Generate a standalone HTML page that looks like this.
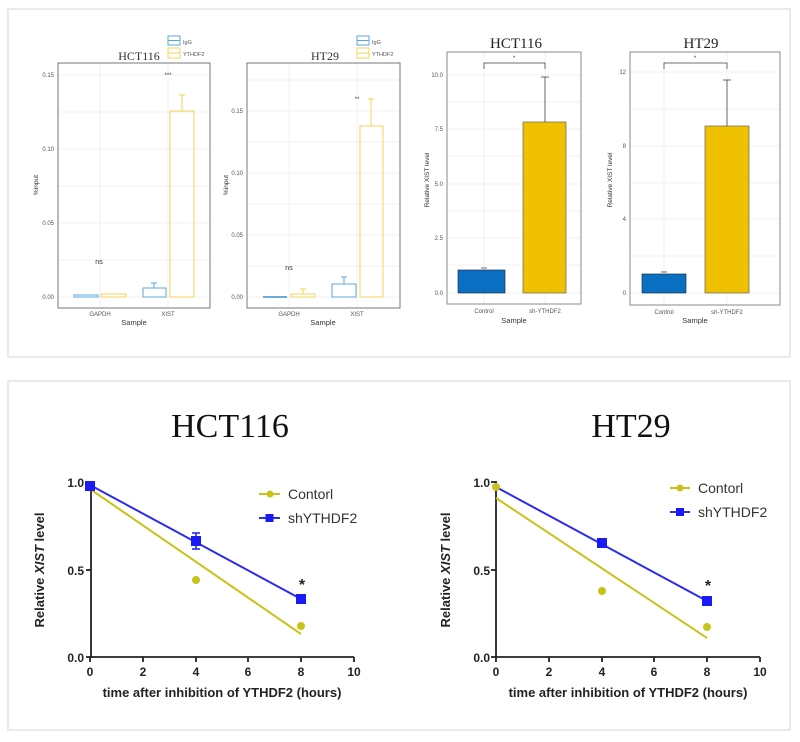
<!DOCTYPE html>
<html><head><meta charset="utf-8"><style>
html,body{margin:0;padding:0;background:#fff;width:800px;height:742px;overflow:hidden}
svg{display:block}
.s{font-family:"Liberation Sans",sans-serif}
.t{font-family:"Liberation Serif",serif}
</style></head><body>
<svg width="800" height="742" viewBox="0 0 800 742" xmlns="http://www.w3.org/2000/svg">
<rect x="8" y="9" width="782" height="348" fill="#fff" stroke="#e4e4e4" stroke-width="1.5"/>
<rect x="8" y="381" width="782" height="349" fill="#fff" stroke="#e4e4e4" stroke-width="1.5"/>

<!-- Chart 1 -->
<g class="s" font-size="6" fill="#555">
<g stroke="#eee" stroke-width="0.8">
<line x1="58" y1="75" x2="210" y2="75"/><line x1="58" y1="149" x2="210" y2="149"/><line x1="58" y1="223" x2="210" y2="223"/><line x1="58" y1="297" x2="210" y2="297"/>
<line x1="58" y1="112" x2="210" y2="112"/><line x1="58" y1="186" x2="210" y2="186"/><line x1="58" y1="260" x2="210" y2="260"/>
<line x1="100" y1="63" x2="100" y2="308"/><line x1="168" y1="63" x2="168" y2="308"/></g>
<rect x="58" y="63" width="152" height="245" fill="none" stroke="#777" stroke-width="1"/>
<text x="54" y="77" text-anchor="end">0.15</text><text x="54" y="151" text-anchor="end">0.10</text><text x="54" y="225" text-anchor="end">0.05</text><text x="54" y="299" text-anchor="end">0.00</text>
<text x="100" y="316" text-anchor="middle">GAPDH</text><text x="168" y="316" text-anchor="middle">XIST</text>
<text x="134" y="325" text-anchor="middle" font-size="7.5" fill="#333">Sample</text>
<text transform="translate(38,185) rotate(-90)" text-anchor="middle" font-size="6.5" fill="#333">%input</text>
<g fill="none" stroke-width="1">
<rect x="74" y="295" width="24" height="2" stroke="#5aa7e0"/>
<rect x="101" y="294" width="25" height="3" stroke="#f3d35a"/>
<rect x="143" y="288" width="23" height="9" stroke="#5aa7e0"/>
<line x1="154" y1="288" x2="154" y2="283" stroke="#5aa7e0"/><line x1="151" y1="283" x2="157" y2="283" stroke="#5aa7e0"/>
<rect x="170" y="111" width="24" height="186" stroke="#f3d35a"/>
<line x1="182" y1="111" x2="182" y2="95" stroke="#f3d35a"/><line x1="179" y1="95" x2="185" y2="95" stroke="#f3d35a"/>
<rect x="168" y="36" width="12" height="9" stroke="#5aa7e0"/><line x1="168" y1="40.5" x2="180" y2="40.5" stroke="#5aa7e0"/>
<rect x="168" y="48" width="12" height="10" stroke="#f3d35a"/><line x1="168" y1="53" x2="180" y2="53" stroke="#f3d35a"/>
</g>
<text x="183" y="44" font-size="5.5">IgG</text><text x="183" y="56" font-size="5.5">YTHDF2</text>
<text x="168" y="77" text-anchor="middle" fill="#333">***</text>
<text x="99" y="264" text-anchor="middle" font-size="7" fill="#333">ns</text>
</g>
<text x="139" y="60" text-anchor="middle" class="t" font-size="12" fill="#333">HCT116</text>

<!-- Chart 2 -->
<g class="s" font-size="6" fill="#555">
<g stroke="#eee" stroke-width="0.8">
<line x1="247" y1="111" x2="400" y2="111"/><line x1="247" y1="173" x2="400" y2="173"/><line x1="247" y1="235" x2="400" y2="235"/><line x1="247" y1="297" x2="400" y2="297"/>
<line x1="247" y1="80" x2="400" y2="80"/><line x1="247" y1="142" x2="400" y2="142"/><line x1="247" y1="204" x2="400" y2="204"/><line x1="247" y1="266" x2="400" y2="266"/>
<line x1="289" y1="63" x2="289" y2="308"/><line x1="357" y1="63" x2="357" y2="308"/></g>
<rect x="247" y="63" width="153" height="245" fill="none" stroke="#777" stroke-width="1"/>
<text x="243" y="113" text-anchor="end">0.15</text><text x="243" y="175" text-anchor="end">0.10</text><text x="243" y="237" text-anchor="end">0.05</text><text x="243" y="299" text-anchor="end">0.00</text>
<text x="289" y="316" text-anchor="middle">GAPDH</text><text x="357" y="316" text-anchor="middle">XIST</text>
<text x="323" y="325" text-anchor="middle" font-size="7.5" fill="#333">Sample</text>
<text transform="translate(228,185) rotate(-90)" text-anchor="middle" font-size="6.5" fill="#333">%input</text>
<g fill="none" stroke-width="1">
<line x1="263" y1="297" x2="287" y2="297" stroke="#3a8fd8" stroke-width="1.5"/>
<rect x="291" y="294" width="24" height="3" stroke="#f3d35a"/>
<line x1="303" y1="294" x2="303" y2="289" stroke="#f3d35a"/><line x1="300" y1="289" x2="306" y2="289" stroke="#f3d35a"/>
<rect x="332" y="284" width="24" height="13" stroke="#5aa7e0"/>
<line x1="344" y1="284" x2="344" y2="277" stroke="#5aa7e0"/><line x1="341" y1="277" x2="347" y2="277" stroke="#5aa7e0"/>
<rect x="360" y="126" width="23" height="171" stroke="#f3d35a"/>
<line x1="371" y1="126" x2="371" y2="99" stroke="#f3d35a"/><line x1="368" y1="99" x2="374" y2="99" stroke="#f3d35a"/>
<rect x="357" y="36" width="12" height="9" stroke="#5aa7e0"/><line x1="357" y1="40.5" x2="369" y2="40.5" stroke="#5aa7e0"/>
<rect x="357" y="48" width="12" height="10" stroke="#f3d35a"/><line x1="357" y1="53" x2="369" y2="53" stroke="#f3d35a"/>
</g>
<text x="372" y="44" font-size="5.5">IgG</text><text x="372" y="56" font-size="5.5">YTHDF2</text>
<text x="357" y="101" text-anchor="middle" fill="#333">**</text>
<text x="289" y="270" text-anchor="middle" font-size="7" fill="#333">ns</text>
</g>
<text x="325" y="60" text-anchor="middle" class="t" font-size="12" fill="#333">HT29</text>

<!-- Chart 3 -->
<g class="s" font-size="6" fill="#555">
<g stroke="#eee" stroke-width="0.8">
<line x1="447" y1="75" x2="581" y2="75"/><line x1="447" y1="129" x2="581" y2="129"/><line x1="447" y1="184" x2="581" y2="184"/><line x1="447" y1="238" x2="581" y2="238"/><line x1="447" y1="293" x2="581" y2="293"/>
<line x1="447" y1="102" x2="581" y2="102"/><line x1="447" y1="156" x2="581" y2="156"/><line x1="447" y1="211" x2="581" y2="211"/><line x1="447" y1="265" x2="581" y2="265"/>
<line x1="484" y1="52" x2="484" y2="304"/><line x1="545" y1="52" x2="545" y2="304"/></g>
<rect x="447" y="52" width="134" height="252" fill="none" stroke="#888" stroke-width="1"/>
<text x="443" y="77" text-anchor="end">10.0</text><text x="443" y="131" text-anchor="end">7.5</text><text x="443" y="186" text-anchor="end">5.0</text><text x="443" y="240" text-anchor="end">2.5</text><text x="443" y="295" text-anchor="end">0.0</text>
<rect x="458" y="270" width="47" height="23" fill="#0a6fc2" stroke="#234" stroke-width="0.7"/>
<rect x="523" y="122" width="43" height="171" fill="#efc100" stroke="#665" stroke-width="0.7"/>
<g stroke="#444" stroke-width="0.8" fill="none">
<line x1="545" y1="122" x2="545" y2="77"/><line x1="541" y1="77" x2="549" y2="77"/>
<line x1="481" y1="268" x2="487" y2="268"/>
<polyline points="484,69 484,63 545,63 545,69"/></g>
<text x="514" y="60" text-anchor="middle" fill="#333">*</text>
<text x="484" y="313" text-anchor="middle">Control</text><text x="545" y="313" text-anchor="middle">sh-YTHDF2</text>
<text x="514" y="323" text-anchor="middle" font-size="7.5" fill="#333">Sample</text>
<text transform="translate(429,180) rotate(-90)" text-anchor="middle" font-size="6.5" fill="#333">Relative XIST level</text>
</g>
<text x="516" y="48" text-anchor="middle" class="t" font-size="15" fill="#222">HCT116</text>

<!-- Chart 4 -->
<g class="s" font-size="6" fill="#555">
<g stroke="#eee" stroke-width="0.8">
<line x1="630" y1="72" x2="780" y2="72"/><line x1="630" y1="146" x2="780" y2="146"/><line x1="630" y1="219" x2="780" y2="219"/><line x1="630" y1="293" x2="780" y2="293"/>
<line x1="630" y1="109" x2="780" y2="109"/><line x1="630" y1="183" x2="780" y2="183"/><line x1="630" y1="256" x2="780" y2="256"/>
<line x1="664" y1="52" x2="664" y2="305"/><line x1="727" y1="52" x2="727" y2="305"/></g>
<rect x="630" y="52" width="150" height="253" fill="none" stroke="#888" stroke-width="1"/>
<text x="626" y="74" text-anchor="end">12</text><text x="626" y="148" text-anchor="end">8</text><text x="626" y="221" text-anchor="end">4</text><text x="626" y="295" text-anchor="end">0</text>
<rect x="642" y="274" width="44" height="19" fill="#0a6fc2" stroke="#234" stroke-width="0.7"/>
<rect x="705" y="126" width="44" height="167" fill="#efc100" stroke="#665" stroke-width="0.7"/>
<g stroke="#444" stroke-width="0.8" fill="none">
<line x1="727" y1="126" x2="727" y2="80"/><line x1="723" y1="80" x2="731" y2="80"/>
<line x1="661" y1="272" x2="667" y2="272"/>
<polyline points="664,69 664,63 727,63 727,69"/></g>
<text x="695" y="60" text-anchor="middle" fill="#333">*</text>
<text x="664" y="314" text-anchor="middle">Control</text><text x="727" y="314" text-anchor="middle">sh-YTHDF2</text>
<text x="695" y="323" text-anchor="middle" font-size="7.5" fill="#333">Sample</text>
<text transform="translate(612,180) rotate(-90)" text-anchor="middle" font-size="6.5" fill="#333">Relative XIST level</text>
</g>
<text x="701" y="48" text-anchor="middle" class="t" font-size="15" fill="#222">HT29</text>

<!-- Line chart left -->
<text x="230" y="437" text-anchor="middle" class="t" font-size="34" fill="#111">HCT116</text>
<g class="s" font-weight="bold" fill="#222">
<g stroke="#222" stroke-width="1.8">
<line x1="91" y1="481" x2="91" y2="658"/><line x1="90" y1="657" x2="354" y2="657"/>
<line x1="86" y1="482" x2="91" y2="482"/><line x1="86" y1="570" x2="91" y2="570"/><line x1="86" y1="657" x2="91" y2="657"/>
<line x1="90" y1="657" x2="90" y2="662"/><line x1="143" y1="657" x2="143" y2="662"/><line x1="196" y1="657" x2="196" y2="662"/><line x1="248" y1="657" x2="248" y2="662"/><line x1="301" y1="657" x2="301" y2="662"/><line x1="354" y1="657" x2="354" y2="662"/></g>
<g font-size="12" text-anchor="end"><text x="84" y="487">1.0</text><text x="84" y="575">0.5</text><text x="84" y="662">0.0</text></g>
<g font-size="12" text-anchor="middle"><text x="90" y="676">0</text><text x="143" y="676">2</text><text x="196" y="676">4</text><text x="248" y="676">6</text><text x="301" y="676">8</text><text x="354" y="676">10</text></g>
<text x="222" y="697" text-anchor="middle" font-size="13">time after inhibition of YTHDF2 (hours)</text>
<text transform="translate(44,570) rotate(-90)" text-anchor="middle" font-size="13">Relative <tspan font-style="italic">XIST</tspan> level</text>
<line x1="90" y1="489" x2="301" y2="634" stroke="#c8c31a" stroke-width="2"/>
<line x1="90" y1="485" x2="301" y2="599" stroke="#2b2bf0" stroke-width="2"/>
<g fill="#c8c31a"><circle cx="196" cy="580" r="4"/><circle cx="301" cy="626" r="4"/></g>
<g fill="#1a1af5"><rect x="85" y="481" width="10" height="10"/><rect x="191" y="536" width="10" height="10"/><rect x="296" y="594" width="10" height="10"/></g>
<g stroke="#1a1af5" stroke-width="1.5"><line x1="196" y1="533" x2="196" y2="549"/><line x1="192" y1="533" x2="200" y2="533"/><line x1="192" y1="549" x2="200" y2="549"/></g>
<text x="302" y="590" text-anchor="middle" font-size="16">*</text>
<line x1="259" y1="494" x2="280" y2="494" stroke="#c8c31a" stroke-width="2"/><circle cx="270" cy="494" r="3.5" fill="#c8c31a"/>
<line x1="259" y1="518" x2="280" y2="518" stroke="#2b2bf0" stroke-width="2"/><rect x="265.5" y="514" width="8" height="8" fill="#1a1af5"/>
<g font-weight="normal" font-size="14" fill="#333"><text x="288" y="499">Contorl</text><text x="288" y="523">shYTHDF2</text></g>
</g>

<!-- Line chart right -->
<text x="631" y="437" text-anchor="middle" class="t" font-size="34" fill="#111">HT29</text>
<g class="s" font-weight="bold" fill="#222">
<g stroke="#222" stroke-width="1.8">
<line x1="496" y1="481" x2="496" y2="658"/><line x1="495" y1="657" x2="760" y2="657"/>
<line x1="491" y1="482" x2="496" y2="482"/><line x1="491" y1="570" x2="496" y2="570"/><line x1="491" y1="657" x2="496" y2="657"/>
<line x1="496" y1="657" x2="496" y2="662"/><line x1="549" y1="657" x2="549" y2="662"/><line x1="602" y1="657" x2="602" y2="662"/><line x1="654" y1="657" x2="654" y2="662"/><line x1="707" y1="657" x2="707" y2="662"/><line x1="760" y1="657" x2="760" y2="662"/></g>
<g font-size="12" text-anchor="end"><text x="490" y="487">1.0</text><text x="490" y="575">0.5</text><text x="490" y="662">0.0</text></g>
<g font-size="12" text-anchor="middle"><text x="496" y="676">0</text><text x="549" y="676">2</text><text x="602" y="676">4</text><text x="654" y="676">6</text><text x="707" y="676">8</text><text x="760" y="676">10</text></g>
<text x="628" y="697" text-anchor="middle" font-size="13">time after inhibition of YTHDF2 (hours)</text>
<text transform="translate(450,570) rotate(-90)" text-anchor="middle" font-size="13">Relative <tspan font-style="italic">XIST</tspan> level</text>
<line x1="496" y1="498" x2="707" y2="638" stroke="#c8c31a" stroke-width="2"/>
<line x1="496" y1="487" x2="707" y2="601" stroke="#2b2bf0" stroke-width="2"/>
<g fill="#c8c31a"><circle cx="496" cy="487" r="4"/><circle cx="602" cy="591" r="4"/><circle cx="707" cy="627" r="4"/></g>
<g fill="#1a1af5"><rect x="597" y="538" width="10" height="10"/><rect x="702" y="596" width="10" height="10"/></g>
<text x="708" y="591" text-anchor="middle" font-size="16">*</text>
<line x1="670" y1="488" x2="690" y2="488" stroke="#c8c31a" stroke-width="2"/><circle cx="680" cy="488" r="3.5" fill="#c8c31a"/>
<line x1="670" y1="512" x2="690" y2="512" stroke="#2b2bf0" stroke-width="2"/><rect x="676" y="508" width="8" height="8" fill="#1a1af5"/>
<g font-weight="normal" font-size="14" fill="#333"><text x="698" y="493">Contorl</text><text x="698" y="517">shYTHDF2</text></g>
</g>
</svg>
</body></html>
